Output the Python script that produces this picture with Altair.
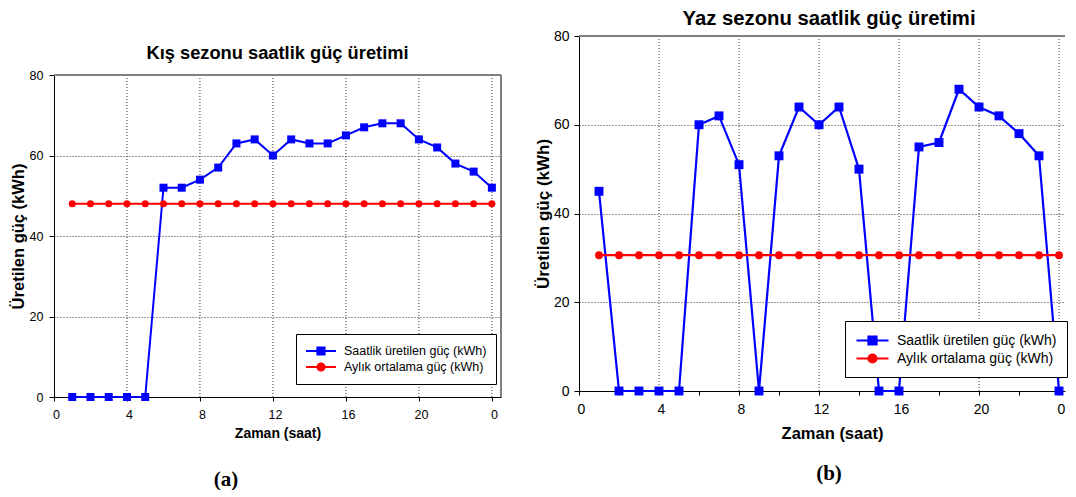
import altair as alt
import pandas as pd

# ---------------- data ----------------
hours = list(range(1, 25))
kis_saatlik = [0, 0, 0, 0, 0, 52, 52, 54, 57, 63, 64, 60, 64, 63, 63, 65, 67, 68, 68, 64, 62, 58, 56, 52]
kis_ortalama = [48, 48, 48, 48, 48, 48, 48, 48, 48, 48, 48, 48, 48, 48, 48, 48, 48, 48, 48, 48, 48, 48, 48, 48]
yaz_saatlik = [45, 0, 0, 0, 0, 60, 62, 51, 0, 53, 64, 60, 64, 50, 0, 0, 55, 56, 68, 64, 62, 58, 53, 0]
yaz_ortalama = [30.6, 30.6, 30.6, 30.6, 30.6, 30.6, 30.6, 30.6, 30.6, 30.6, 30.6, 30.6,
                30.6, 30.6, 30.6, 30.6, 30.6, 30.6, 30.6, 30.6, 30.6, 30.6, 30.6, 30.6]
series_names = ["Saatlik üretilen güç (kWh)", "Aylık ortalama güç (kWh)"]
series_colors = ["#0000FF", "#FF0000"]
x_tick_values = list(range(0, 25))
x_grid_values = [4, 8, 12, 16, 20, 24]
y_tick_values = [0, 20, 40, 60, 80]
titles = ["Kış sezonu saatlik güç üretimi", "Yaz sezonu saatlik güç üretimi"]
x_title = "Zaman (saat)"
y_title = "Üretilen güç (kWh)"
captions = ["(a)", "(b)"]

FONT = "Liberation Sans, Arial, sans-serif"
SERIF = "Liberation Serif, Times New Roman, serif"


def legend_paths(r, length, half):
    """Legend glyphs: a line of `length` px with a marker in its middle (symbol radius r)."""
    end = (length - r) / r
    c = (length / 2 - r) / r
    m = half / r
    sq = f"M-1,0H{end:.3f}M{c - m:.3f},{-m:.3f}H{c + m:.3f}V{m:.3f}H{c - m:.3f}Z"
    ci = (f"M-1,0H{end:.3f}M{c - m:.3f},0A{m:.3f},{m:.3f},0,1,0,{c + m:.3f},0"
          f"A{m:.3f},{m:.3f},0,1,0,{c - m:.3f},0Z")
    return [sq, ci]


def make_df(s, m):
    return pd.DataFrame({
        "saat": hours + hours,
        "deger": s + m,
        "seri": [series_names[0]] * len(s) + [series_names[1]] * len(m),
    })


def panel(df, W, H, top, xmax, tick_fs, ytitle_fs, xtitle_fs, x_label_pad, x_title_pad,
          y_label_pad, y_title_pad, x_title_x, legend_fs, legend_x, legend_y,
          legend_pad, legend_row_pad, leg_r, leg_len, leg_half, leg_label_off,
          sq_size, ci_size, line_w, caption, cap_x, cap_y, right_border):
    x_enc = alt.X(
        "saat:Q",
        scale=alt.Scale(domain=[0, xmax], nice=False, zero=False),
        axis=alt.Axis(
            values=x_tick_values,
            labelExpr="datum.value % 4 == 0 ? '' + (datum.value % 24) : ''",
            labelOverlap=False, labelFlush=False, labelOffset=2,
            labelFont=FONT, labelFontSize=tick_fs, labelColor="black",
            labelPadding=x_label_pad,
            title=x_title, titleFont=FONT, titleFontSize=xtitle_fs,
            titleFontWeight="bold", titleColor="black", titlePadding=x_title_pad,
            **({"titleX": x_title_x} if x_title_x is not None else {}),
            tickSize=4, tickColor="black", tickWidth=1,
            domainColor="black", domainWidth=1, grid=False,
        ),
    )
    y_enc = alt.Y(
        "deger:Q",
        scale=alt.Scale(domain=[0, 80], nice=False, range=[H, top]),
        axis=alt.Axis(
            values=y_tick_values,
            labelFont=FONT, labelFontSize=tick_fs, labelColor="black",
            labelPadding=y_label_pad,
            title=y_title, titleFont=FONT, titleFontSize=ytitle_fs,
            titleFontWeight="bold", titleColor="black", titlePadding=y_title_pad,
            tickSize=5, tickColor="black", domainColor="black", domainWidth=1,
            grid=True, gridColor="#333333", gridDash=[1, 2], gridWidth=1,
        ),
    )

    leg_params = dict(
        title=None, orient="none", legendX=legend_x, legendY=legend_y,
        labelFont=FONT, labelFontSize=legend_fs, labelColor="black",
        labelOffset=leg_label_off, symbolSize=(2 * leg_r) ** 2, padding=legend_pad,
        rowPadding=legend_row_pad, strokeColor="black", fillColor="white", labelLimit=400,
        symbolStrokeWidth=line_w, symbolOpacity=1,
    )

    base = alt.Chart(df)
    grid = alt.Chart(pd.DataFrame({"gx": x_grid_values})).mark_rule(
        color="#333333", strokeDash=[1, 2], strokeWidth=1
    ).encode(x=alt.X("gx:Q"), y=alt.datum(80), y2=alt.datum(0))

    series_layers = []
    for name, col, shp, sz in zip(series_names, series_colors, ["square", "circle"], [sq_size, ci_size]):
        sub = base.transform_filter(alt.datum.seri == name)
        series_layers.append(sub.mark_line(strokeWidth=line_w, color=col).encode(x=x_enc, y=y_enc))
        series_layers.append(sub.mark_point(shape=shp, filled=True, opacity=1, size=sz, color=col)
                             .encode(x=x_enc, y=y_enc))

    leg = base.mark_point(filled=True, size=0, opacity=1).encode(
        x=x_enc, y=y_enc,
        color=alt.Color("seri:N", scale=alt.Scale(domain=series_names, range=series_colors),
                        legend=alt.Legend(**leg_params)),
        stroke=alt.Stroke("seri:N", scale=alt.Scale(domain=series_names, range=series_colors),
                          legend=alt.Legend(**leg_params)),
        shape=alt.Shape("seri:N", scale=alt.Scale(domain=series_names,
                                                  range=legend_paths(leg_r, leg_len, leg_half)),
                        legend=alt.Legend(**leg_params)),
    )
    border_df = pd.DataFrame({"k": [0]})
    top_rule = alt.Chart(border_df).mark_rule(color="#808080", strokeWidth=2).encode(
        x=alt.value(0), x2=alt.value(W), y=alt.value(top))
    layers = [grid, top_rule]
    if right_border:
        layers.append(alt.Chart(border_df).mark_rule(color="#808080", strokeWidth=2).encode(
            x=alt.value(W), y=alt.value(top), y2=alt.value(H)))
    layers += series_layers + [leg]
    cap = alt.Chart(pd.DataFrame({"etiket": [caption]})).mark_text(
        font=SERIF, fontSize=21, fontWeight="bold", color="black", baseline="middle", align="center"
    ).encode(text="etiket:N", x=alt.value(cap_x), y=alt.value(cap_y))
    layers.append(cap)
    return layers


W1, H1 = 447, 361
left_layers = panel(make_df(kis_saatlik, kis_ortalama), W1, H1, 39, 24.5, 12.5, 16.5, 14, 7, 6, 6, 2.5,
                    None, 12.5, 242, 298, 9, 0, 7, 30, 3.6, 23,
                    64, 50, 2, captions[0], 172, 444, True)
left_title = alt.Chart(pd.DataFrame({"baslik": [titles[0]]})).mark_text(
    font=FONT, fontSize=18.3, fontWeight="bold", color="black", baseline="middle", align="center"
).encode(text="baslik:N", x=alt.value(W1 / 2), y=alt.value(18))
left = alt.layer(*left_layers, left_title).properties(width=W1, height=H1)

W2, H2 = 486, 355
right_layers = panel(make_df(yaz_saatlik, yaz_ortalama), W2, H2, 0, 24.3, 14, 17, 16.5, 7, 9, 5, 1,
                     253, 14, 266, 285, 10, 0, 8, 32, 4, 23,
                     80, 62, 2.2, captions[1], 250, 438, False)
right = alt.layer(*right_layers).properties(
    width=W2, height=H2,
    title=alt.TitleParams(text=titles[1], font=FONT, fontSize=20.3, fontWeight="bold",
                          color="black", offset=0, dx=7),
)

chart = alt.hconcat(left, right, spacing=32).resolve_scale(
    color="independent", stroke="independent", shape="independent"
).properties(
    padding={"left": 2, "top": 0, "right": 0, "bottom": 0}
).configure(font=FONT).configure_view(stroke="transparent", strokeWidth=0)

chart.save("out.html", embed_options={"renderer": "svg", "actions": False})
